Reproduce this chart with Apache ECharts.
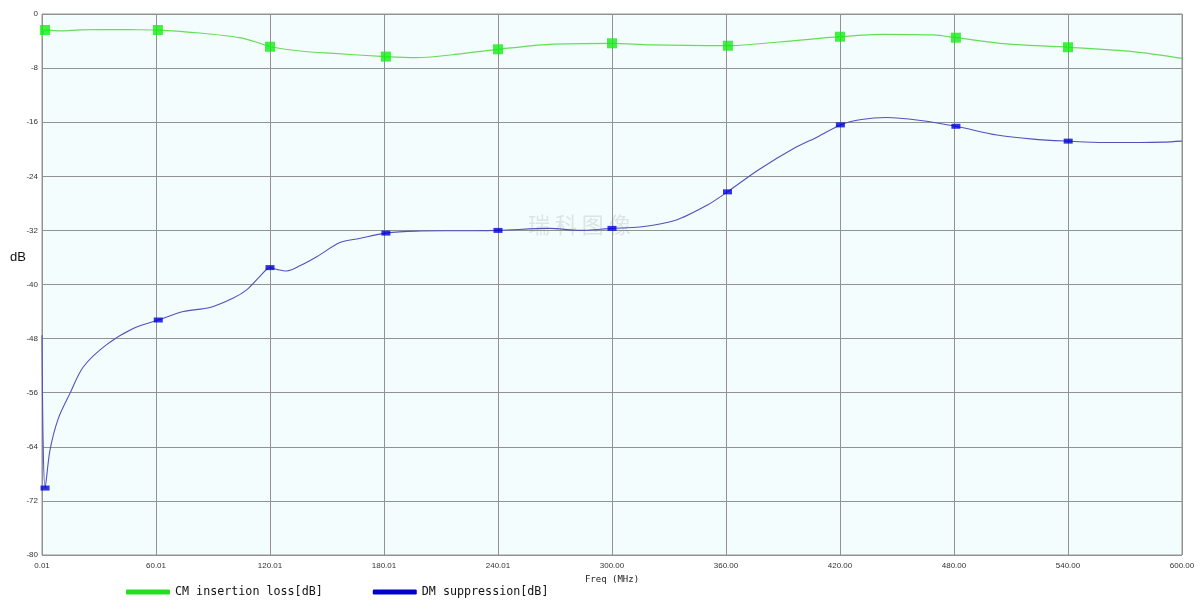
<!DOCTYPE html>
<html>
<head>
    <meta charset="utf-8" />
    <title>CM / DM</title>
    <script src="https://cdn.jsdelivr.net/npm/echarts@6/dist/echarts.min.js"></script>
    <style>
        html, body { margin: 0; padding: 0; background: #fff; }
        #content { width: 1200px; height: 609px; }
    </style>
</head>
<body>
    <div id="content"></div>
    <script type="text/javascript">
        // x tick labels (MHz)
        var xTickLabels = ["0.01", "60.01", "120.01", "180.01", "240.01", "300.00", "360.00", "420.00", "480.00", "540.00", "600.00"];

        // CM insertion loss curve
        var cmFreq = [0.01, 1.6, 9.5, 20, 30.5, 46, 61, 83, 104, 114.7, 120, 136, 151.6, 181, 197, 215, 240, 267, 300, 320, 361, 388, 420, 442.6, 469, 481, 504, 540, 574, 600];
        var cmDb = [-3.5, -2.37, -2.5, -2.35, -2.29, -2.32, -2.37, -2.81, -3.5, -4.33, -4.84, -5.47, -5.8, -6.3, -6.46, -6.06, -5.22, -4.48, -4.33, -4.58, -4.69, -4.14, -3.36, -3.0, -3.1, -3.5, -4.33, -4.92, -5.57, -6.55];

        // DM suppression curve
        var dmFreq = [0.01, 0.5, 1.6, 4.2, 8.6, 14.7, 21.7, 34, 48, 61.2, 74.4, 88.4, 100.7, 107.7, 114.7, 120, 124, 128.8, 136, 144.6, 156.8, 167, 181, 197, 220, 240, 267, 283, 300, 314.7, 333.5, 350.5, 360.8, 376.8, 395.6, 408.7, 420.2, 431.3, 444.4, 461.4, 481, 502.6, 521.6, 540.1, 559, 578, 590, 600];
        var dmDb = [-47.5, -62, -70.1, -64.5, -59.8, -56.1, -52.2, -48.9, -46.5, -45.25, -44.0, -43.4, -42.0, -40.8, -38.8, -37.5, -37.8, -38.0, -37.2, -35.9, -33.8, -33.2, -32.4, -32.1, -32.05, -32.0, -31.7, -32.0, -31.7, -31.5, -30.5, -28.2, -26.3, -23.1, -19.9, -18.1, -16.4, -15.6, -15.3, -15.7, -16.6, -17.9, -18.5, -18.8, -19.0, -19.0, -18.95, -18.8];

        // marker points
        var cmMarkFreq = [1.6, 61, 120, 181, 240, 300, 361, 420, 481, 540];
        var cmMarkDb = [-2.37, -2.37, -4.84, -6.3, -5.22, -4.33, -4.69, -3.36, -3.5, -4.92];
        var dmMarkFreq = [1.6, 61.2, 120, 181, 240, 300, 360.8, 420.2, 481, 540.1];
        var dmMarkDb = [-70.1, -45.25, -37.5, -32.4, -32.0, -31.7, -26.3, -16.4, -16.6, -18.8];

        function zip(a, b) {
            var r = [];
            for (var i = 0; i < a.length; i++) {
                r.push([a[i], b[i]]);
            }
            return r;
        }

        var myChart = echarts.init(document.getElementById("content"));
        myChart.setOption({
            animation: false,
            backgroundColor: '#fff',
            grid: {
                left: 42, right: 18, top: 14, bottom: 54,
                show: true,
                backgroundColor: '#f3fdfd',
                borderColor: '#929292',
                borderWidth: 1
            },
            legend: {
                left: 121,
                top: 581,
                icon: 'roundRect',
                itemWidth: 44,
                itemHeight: 5,
                itemGap: 50,
                data: ['CM insertion loss[dB]', 'DM suppression[dB]'],
                textStyle: { fontFamily: 'DejaVu Sans Mono', fontSize: 11.7, color: '#111' }
            },
            graphic: [
                {
                    type: 'text', left: 10, top: 251,
                    style: { text: 'dB', font: '13px "Liberation Sans"', fill: '#111' }
                },
                {
                    type: 'text', left: 528, top: 214, silent: true,
                    style: { text: '瑞 科 图 像', font: '22px "Noto Sans CJK SC"', fill: 'rgba(150,160,160,0.25)' }
                }
            ],
            xAxis: {
                type: 'value',
                min: 0,
                max: 600,
                interval: 60,
                name: 'Freq (MHz)',
                nameLocation: 'middle',
                nameGap: 15,
                nameTextStyle: { fontFamily: 'DejaVu Sans Mono', fontSize: 9, color: '#222' },
                axisLine: { show: false },
                axisTick: { show: false },
                axisLabel: {
                    fontSize: 8,
                    color: '#333',
                    margin: 7,
                    fontFamily: 'Liberation Sans',
                    formatter: function (v) { return xTickLabels[Math.round(v / 60)]; }
                },
                splitLine: { show: true, lineStyle: { color: '#929292', width: 1 } }
            },
            yAxis: {
                type: 'value',
                min: -80,
                max: 0,
                interval: 8,
                axisLine: { show: false },
                axisTick: { show: false },
                axisLabel: { fontSize: 8, color: '#333', margin: 4, fontFamily: 'Liberation Sans' },
                splitLine: { show: true, lineStyle: { color: '#929292', width: 1 } }
            },
            series: [
                {
                    name: 'CM insertion loss[dB]',
                    type: 'line',
                    data: zip(cmFreq, cmDb),
                    smooth: 0.3,
                    showSymbol: false,
                    color: '#22dd22',
                    lineStyle: { color: '#66dd55', width: 1.2 },
                    z: 3
                },
                {
                    name: 'DM suppression[dB]',
                    type: 'line',
                    data: zip(dmFreq, dmDb),
                    smooth: 0.3,
                    showSymbol: false,
                    color: '#0000cc',
                    lineStyle: { color: '#5252bd', width: 1.1 },
                    z: 3
                },
                {
                    name: 'cmMarks',
                    type: 'scatter',
                    data: zip(cmMarkFreq, cmMarkDb),
                    symbol: 'rect',
                    symbolSize: [10, 10],
                    itemStyle: { color: '#11ee11' },
                    z: 4
                },
                {
                    name: 'dmMarks',
                    type: 'scatter',
                    data: zip(dmMarkFreq, dmMarkDb),
                    symbol: 'rect',
                    symbolSize: [9, 5],
                    itemStyle: { color: '#0000dd' },
                    z: 4
                }
            ]
        });
    </script>
</body>
</html>
